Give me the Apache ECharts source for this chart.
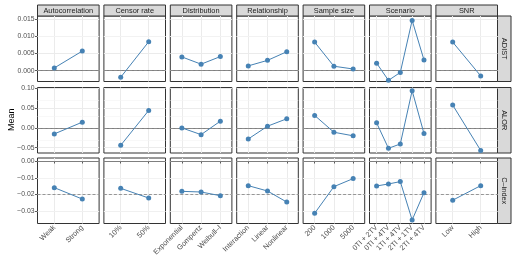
<!DOCTYPE html>
<html><head><meta charset="utf-8">
<script src="https://cdn.jsdelivr.net/npm/echarts@6/dist/echarts.min.js"></script>
<style>html,body{margin:0;padding:0;background:#fff}#c{width:516px;height:264px}</style>
</head><body><div id="c"></div><script>
// ---- data ----
const facets = ["Autocorrelation", "Censor rate", "Distribution", "Relationship", "Sample size", "Scenario", "SNR"];
const autocorrCats = ["Weak", "Strong"];
const censorCats = ["10%", "50%"];
const distCats = ["Exponential", "Gompertz", "Weibull\u2013I"];
const relCats = ["Interaction", "Linear", "Nonlinear"];
const sizeCats = ["200", "1000", "5000"];
const scenarioCats = ["0TI + 2TV", "0TI + 4TV", "1TI + 4TV", "2TI + 1TV", "2TI + 4TV"];
const snrCats = ["Low", "High"];
const metrics = ["ADIST", "ALOR", "C\u2013index"];

const adistValues = [
  [0.0008, 0.0057],
  [-0.0019, 0.0084],
  [0.0040, 0.0019, 0.0041],
  [0.0014, 0.0030, 0.0055],
  [0.0083, 0.0013, 0.0005],
  [0.0022, -0.0028, -0.0005, 0.0146, 0.0031],
  [0.0083, -0.0015]
];
const alorValues = [
  [-0.0152, 0.0145],
  [-0.0440, 0.0440],
  [0.0000, -0.0170, 0.0170],
  [-0.0280, 0.0043, 0.0230],
  [0.0315, -0.0110, -0.0200],
  [0.0127, -0.0515, -0.0406, 0.0940, -0.0142],
  [0.0576, -0.0570]
];
const cindexValues = [
  [-0.0159, -0.0227],
  [-0.0163, -0.0221],
  [-0.0181, -0.0185, -0.0207],
  [-0.0147, -0.0179, -0.0245],
  [-0.0312, -0.0153, -0.0105],
  [-0.0149, -0.0137, -0.0123, -0.0352, -0.0189],
  [-0.0234, -0.0147]
];
const meanLines = [0.0033, 0.0004, -0.0191];

const adistTicks = [0, 0.005, 0.010, 0.015];
const alorTicks = [-0.05, 0, 0.05, 0.10];
const cindexTicks = [-0.03, -0.02, -0.01, 0];
const adistMinor = [-0.0025, 0.0025, 0.0075, 0.0125];
const alorMinor = [-0.025, 0.025, 0.075];
const cindexMinor = [-0.035, -0.025, -0.015, -0.005];
const yRanges = [[-0.00313, 0.01587], [-0.0634, 0.102], [-0.0373, 0.0018]];
const yDecimals = [3, 2, 2];

// ---- layout ----
const facetCats = [autocorrCats, censorCats, distCats, relCats, sizeCats, scenarioCats, snrCats];
const rowValues = [adistValues, alorValues, cindexValues];
const rowTicks = [adistTicks, alorTicks, cindexTicks];
const rowMinor = [adistMinor, alorMinor, cindexMinor];
const FONT = '"Liberation Sans", Arial, sans-serif';
const colLeft0 = 37.5, colStep = 66.4, colW = 61.6;
const rowTops = [16, 87.5, 158], rowH = 65.5;
const stripTop = 5, stripH = 11;

const fmt = (v, d) => { const s = Math.abs(v).toFixed(d); return (v < 0 ? '\u2212' : '') + s; };

const grid = [], xAxis = [], yAxis = [], series = [], graphic = [];
for (let r = 0; r < 3; r++) {
  for (let c = 0; c < 7; c++) {
    const g = r * 7 + c;
    const cats = facetCats[c];
    const n = cats.length;
    const idx = cats.map((_, i) => i + 1);
    grid.push({ left: colLeft0 + c * colStep, top: rowTops[r], width: colW, height: rowH,
      show: true, borderColor: '#333333', borderWidth: 1, backgroundColor: 'transparent' });
    xAxis.push({ type: 'value', gridIndex: g, min: 0.4, max: n + 0.6,
      axisLine: { show: false },
      axisTick: { show: r === 2, customValues: idx, length: 2.5, lineStyle: { color: '#333333', width: 0.8 } },
      axisLabel: { show: r === 2, customValues: idx, rotate: 45, margin: 3,
        formatter: v => cats[Math.round(v) - 1], fontSize: 7.3, color: '#4d4d4d', fontFamily: FONT },
      splitLine: { show: true, lineStyle: { color: '#ebebeb', width: 1 } } });
    yAxis.push({ type: 'value', gridIndex: g, min: yRanges[r][0], max: yRanges[r][1],
      axisLine: { show: false },
      axisTick: { show: c === 0, customValues: rowTicks[r], length: 2.5, lineStyle: { color: '#333333', width: 0.8 } },
      axisLabel: { show: c === 0, customValues: rowTicks[r], margin: 3,
        formatter: v => fmt(v, yDecimals[r]), fontSize: 6.8, color: '#4d4d4d', fontFamily: FONT },
      splitLine: { show: true, lineStyle: { color: '#ebebeb', width: 1 } } });
    const ml = [];
    rowMinor[r].forEach(v => ml.push({ yAxis: v, lineStyle: { color: '#f3f3f3', width: 0.6, type: 'solid' } }));
    ml.push({ yAxis: 0, lineStyle: { color: '#7f7f7f', width: 1, type: 'solid' } });
    ml.push({ yAxis: meanLines[r], lineStyle: { color: '#8c8c8c', width: 0.9, type: [3, 2] } });
    series.push({ type: 'line', xAxisIndex: g, yAxisIndex: g, data: [], z: 1, silent: true,
      markLine: { silent: true, symbol: 'none', animation: false, label: { show: false }, data: ml } });
    series.push({ type: 'line', xAxisIndex: g, yAxisIndex: g, z: 5,
      data: rowValues[r][c].map((v, i) => [i + 1, v]),
      symbol: 'circle', symbolSize: 5, showSymbol: true,
      itemStyle: { color: '#4682b4' }, lineStyle: { color: '#4682b4', width: 1 } });
  }
  // right strip
  graphic.push({ type: 'rect', shape: { x: 497.5, y: rowTops[r], width: 13.5, height: rowH },
    style: { fill: '#d9d9d9', stroke: '#333333', lineWidth: 1 } });
  graphic.push({ type: 'text', x: 504.2, y: rowTops[r] + rowH / 2, rotation: -Math.PI / 2,
    style: { text: metrics[r], fill: '#1a1a1a', font: '7.4px ' + FONT, align: 'center', verticalAlign: 'middle' } });
}
for (let c = 0; c < 7; c++) {
  const x = colLeft0 + c * colStep;
  graphic.push({ type: 'rect', shape: { x: x, y: stripTop, width: colW, height: stripH },
    style: { fill: '#d9d9d9', stroke: '#333333', lineWidth: 1 } });
  graphic.push({ type: 'text', x: x + colW / 2, y: stripTop + stripH / 2 + 0.3,
    style: { text: facets[c], fill: '#1a1a1a', font: '7.4px ' + FONT, align: 'center', verticalAlign: 'middle' } });
}
graphic.push({ type: 'text', x: 12, y: (rowTops[0] + rowTops[2] + rowH) / 2, rotation: Math.PI / 2,
  style: { text: 'Mean', fill: '#000', font: '9px ' + FONT, align: 'center', verticalAlign: 'middle' } });

const chart = echarts.init(document.getElementById('c'), null, { renderer: 'canvas' });
chart.setOption({ animation: false, backgroundColor: '#ffffff', grid, xAxis, yAxis, series, graphic });
</script></body></html>
